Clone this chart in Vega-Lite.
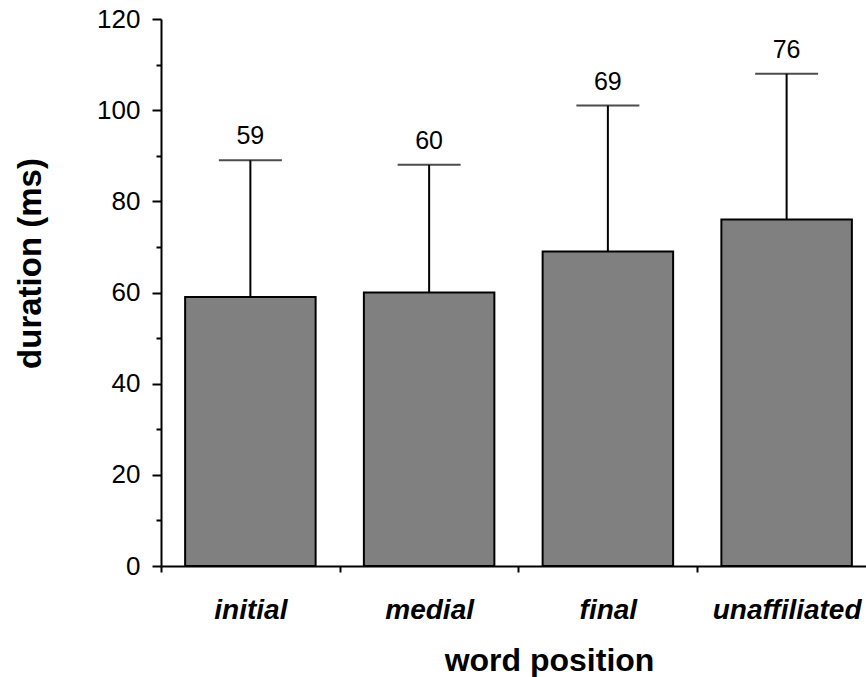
{
  "$schema": "https://vega.github.io/schema/vega-lite/v6.json",
  "autosize": "none",
  "width": 715,
  "height": 547,
  "padding": {"left": 161, "top": 19, "right": 0, "bottom": 111},
  "background": "white",
  "config": {"view": {"stroke": null}},
  "data": {
    "values": [
      {"position": "initial", "duration": 59, "upper": 89},
      {"position": "medial", "duration": 60, "upper": 88},
      {"position": "final", "duration": 69, "upper": 101},
      {"position": "unaffiliated", "duration": 76, "upper": 108}
    ]
  },
  "encoding": {
    "x": {
      "field": "position",
      "type": "nominal",
      "sort": null,
      "scale": {"paddingInner": 0.27, "paddingOuter": 0.135},
      "axis": {
        "title": "word position",
        "titleFont": "Liberation Sans",
        "titleFontSize": 32,
        "titleFontWeight": "bold",
        "titleColor": "black",
        "titleX": 388,
        "titleY": 79,
        "titleAlign": "center",
        "titleBaseline": "top",
        "labelFont": "Liberation Sans",
        "labelFontSize": 28,
        "labelFontStyle": "italic",
        "labelFontWeight": "bold",
        "labelColor": "black",
        "labelAngle": 0,
        "labelPadding": 24,
        "labelOffset": 89.4,
        "tickOffset": -89.4,
        "tickSize": 6,
        "tickWidth": 2,
        "tickColor": "black",
        "domainColor": "black",
        "domainWidth": 2
      }
    }
  },
  "layer": [
    {
      "mark": {"type": "bar", "fill": "#808080", "stroke": "black", "strokeWidth": 2},
      "encoding": {
        "y": {
          "field": "duration",
          "type": "quantitative",
          "scale": {"domain": [0, 120], "nice": false},
          "axis": {
            "title": "duration (ms)",
            "titleFont": "Liberation Sans",
            "titleFontSize": 33,
            "titleFontWeight": "bold",
            "titleColor": "black",
            "titleX": -131,
            "titleY": 244,
            "titleAngle": -90,
            "titleAlign": "center",
            "titleBaseline": "middle",
            "values": [0, 10, 20, 30, 40, 50, 60, 70, 80, 90, 100, 110, 120],
            "labelExpr": "datum.value % 20 === 0 ? datum.label : ''",
            "labelFont": "Liberation Sans",
            "labelFontSize": 26,
            "labelColor": "black",
            "labelPadding": 12,
            "grid": false,
            "tickSize": {"condition": {"test": "datum.value % 20 === 0", "value": 9}, "value": 5},
            "tickWidth": 2,
            "tickColor": "black",
            "domainColor": "black",
            "domainWidth": 2
          }
        }
      }
    },
    {
      "mark": {"type": "rule", "color": "black", "strokeWidth": 2},
      "encoding": {
        "y": {"field": "duration", "type": "quantitative"},
        "y2": {"field": "upper"}
      }
    },
    {
      "mark": {"type": "tick", "color": "black", "thickness": 2, "size": 63},
      "encoding": {
        "y": {"field": "upper", "type": "quantitative"}
      }
    },
    {
      "mark": {"type": "text", "font": "Liberation Sans", "fontSize": 25, "baseline": "bottom", "dy": -11, "color": "black"},
      "encoding": {
        "y": {"field": "upper", "type": "quantitative"},
        "text": {"field": "duration", "type": "quantitative"}
      }
    }
  ]
}
